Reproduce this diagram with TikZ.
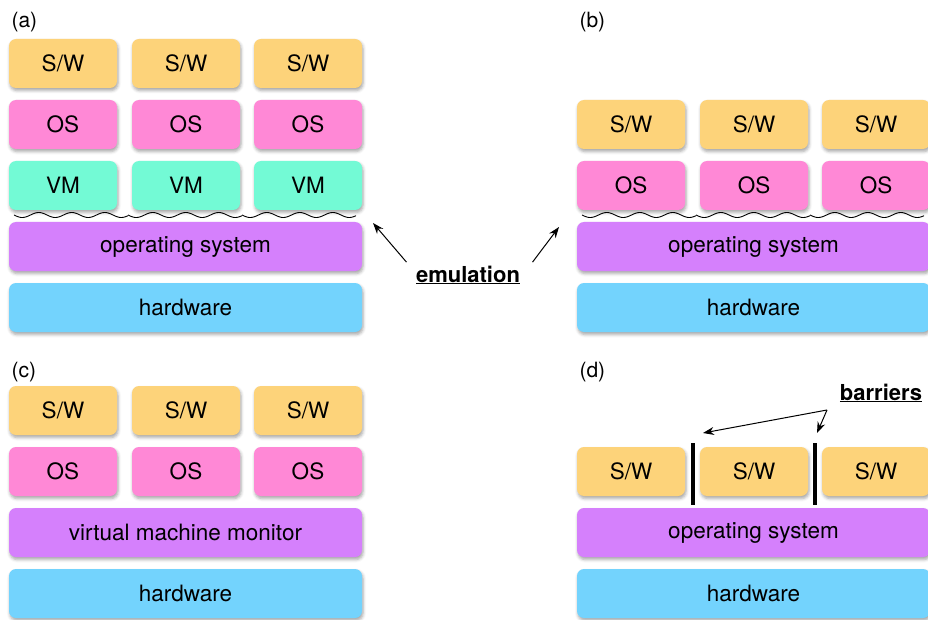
\documentclass[tikz,border=0pt]{standalone}
\usepackage{fontspec}
\setmainfont{TeX Gyre Heros}
\usetikzlibrary{arrows.meta}
\usetikzlibrary{shadows.blur}
\definecolor{swcol}{RGB}{253,211,122}
\definecolor{oscol}{RGB}{255,136,214}
\definecolor{vmcol}{RGB}{115,250,213}
\definecolor{hostcol}{RGB}{213,128,252}
\definecolor{hwcol}{RGB}{115,211,253}

\tikzset{
  layer/.style={rounded corners=7pt, minimum height=49pt, inner sep=0pt,
    font=\fontsize{22.5}{26}\selectfont,
    blur shadow={shadow xshift=1pt, shadow yshift=-2.5pt,
      shadow blur radius=3pt, shadow opacity=35}},
  small/.style={layer, minimum width=108pt},
  wide/.style={layer, minimum width=353pt},
  panel/.style={anchor=west, font=\fontsize{21}{24}\selectfont},
  wave/.style={line width=0.9pt},
  arr/.style={-{Stealth[length=11pt,width=8pt]}, line width=1pt},
  callout/.style={font=\fontsize{22}{26}\selectfont\bfseries}
}

\begin{document}
\begin{tikzpicture}[x=1pt, y=-1pt]
\useasboundingbox (0,0) rectangle (928,620);

% (a) process VM
\begin{scope}
  \node[panel] (a-lab) at (8,22) {(a)};
  \foreach \c/\x in {1/63, 2/186, 3/308} {
    \node[small, fill=swcol] (a-sw\c) at (\x,63.5) {S/W};
    \node[small, fill=oscol] (a-os\c) at (\x,124.5) {OS};
    \node[small, fill=vmcol] (a-vm\c) at (\x,185.5) {VM};
  }
  \node[wide, fill=hostcol] (a-host) at (185.5,246.5) {operating system};
  \node[wide, fill=hwcol] (a-hw) at (185.5,307.5) {hardware};
  \foreach \s in {14, 128, 242}
    \draw[wave] plot[domain=0:114, samples=80, smooth] (\s+\x, {215+2.5*sin(\x/33*360)});
\end{scope}

% (b)
\begin{scope}[shift={(568,0)}]
  \node[panel] (b-lab) at (8,22) {(b)};
  \foreach \c/\x in {1/63, 2/186, 3/308} {
    \node[small, fill=swcol] (b-sw\c) at (\x,124.5) {S/W};
    \node[small, fill=oscol] (b-os\c) at (\x,185.5) {OS};
  }
  \node[wide, fill=hostcol] (b-host) at (185.5,246.5) {operating system};
  \node[wide, fill=hwcol] (b-hw) at (185.5,307.5) {hardware};
  \foreach \s in {14, 128, 242}
    \draw[wave] plot[domain=0:114, samples=80, smooth] (\s+\x, {215+2.5*sin(\x/33*360)});
\end{scope}

% emulation label between (a) and (b)
\node[callout] (emul) at (468,275) {\underline{emulation}};
\coordinate (emul-a) at (373,223);
\coordinate (emul-b) at (559,227);
\draw[arr] ([xshift=-6pt]emul.north west) -- (emul-a);
\draw[arr] ([xshift=9pt]emul.north east) -- (emul-b);

% (c) system VM
\begin{scope}[shift={(0,347)}]
  \node[panel] (c-lab) at (8,25) {(c)};
  \foreach \c/\x in {1/63, 2/186, 3/308} {
    \node[small, fill=swcol] (c-sw\c) at (\x,63.5) {S/W};
    \node[small, fill=oscol] (c-os\c) at (\x,124.5) {OS};
  }
  \node[wide, fill=hostcol] (c-vmm) at (185.5,185.5) {virtual machine monitor};
  \node[wide, fill=hwcol] (c-hw) at (185.5,246.5) {hardware};
\end{scope}

% (d)
\begin{scope}[shift={(568,347)}]
  \node[panel] (d-lab) at (8,25) {(d)};
  \foreach \c/\x in {1/63, 2/186, 3/308}
    \node[small, fill=swcol] (d-sw\c) at (\x,124.5) {S/W};
  \node[wide, fill=hostcol] (d-host) at (185.5,185.5) {operating system};
  \node[wide, fill=hwcol] (d-hw) at (185.5,246.5) {hardware};
  \draw[line width=4pt] (124.5,96) -- (124.5,158);
  \draw[line width=4pt] (247,96) -- (247,158);
  \node[callout] (barriers) at (313,46) {\underline{barriers}};
  \coordinate (fork) at (259,63);
  \coordinate (bar1) at (135,86);
  \coordinate (bar2) at (249,86);
  \draw[arr] (fork) -- (bar1);
  \draw[arr] (fork) -- (bar2);
\end{scope}

\end{tikzpicture}
\end{document}
